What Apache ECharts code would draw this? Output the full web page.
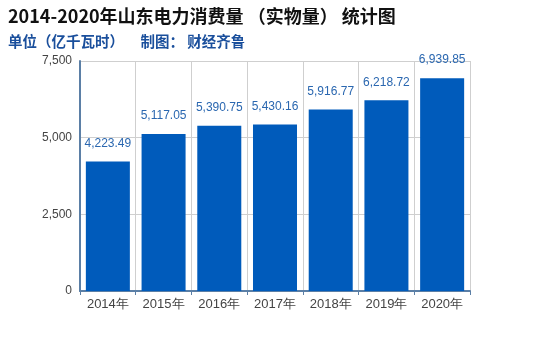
<!DOCTYPE html>
<html>
<head>
<meta charset="utf-8">
<script src="https://cdn.jsdelivr.net/npm/echarts@6/dist/echarts.min.js"></script>
<style>
html,body{margin:0;padding:0;background:#fff;}
#chart{width:550px;height:350px;}
</style>
</head>
<body>
<div id="chart"></div>
<script>
// 山东电力消费量（实物量），单位：亿千瓦时
const years = ['2014年','2015年','2016年','2017年','2018年','2019年','2020年'];
const consumption = [4223.49, 5117.05, 5390.75, 5430.16, 5916.77, 6218.72, 6939.85];
const yTicks = [0, 2500, 5000, 7500];

const chart = echarts.init(document.getElementById('chart'));
chart.setOption({
  animation: false,
  title: [
    {
      text: '2014-2020年山东电力消费量 （实物量） 统计图',
      left: 3, top: 2,
      textStyle: {fontFamily: 'Noto Sans CJK SC', fontSize: 18, fontWeight: 'bold', color: '#111'}
    },
    {
      text: '单位（亿千瓦时）     制图： 财经齐鲁',
      left: 3, top: 29,
      textStyle: {fontFamily: 'Noto Sans CJK SC', fontSize: 14.5, fontWeight: 'bold', color: '#1a4f9c'}
    }
  ],
  grid: {left: 80, right: 80, top: 61, bottom: 59},
  xAxis: {
    type: 'category',
    data: years,
    axisLine: {lineStyle: {color: '#5b7fa6', width: 2}},
    axisTick: {show: true, length: 4, lineStyle: {color: '#5b7fa6'}},
    axisLabel: {color: '#444', fontFamily: 'Arial', fontSize: 13, margin: 7},
    splitLine: {show: true, lineStyle: {color: '#cfcfcf'}}
  },
  yAxis: {
    type: 'value',
    min: yTicks[0], max: yTicks[yTicks.length - 1], interval: 2500,
    axisLine: {show: true, lineStyle: {color: '#5b7fa6', width: 2}},
    axisTick: {show: false},
    axisLabel: {color: '#444', fontFamily: 'Arial', fontSize: 12, margin: 8,
      formatter: v => v.toLocaleString('en-US')},
    splitLine: {show: true, lineStyle: {color: '#cfcfcf'}}
  },
  series: [{
    type: 'bar',
    data: consumption,
    barCategoryGap: '21%',
    itemStyle: {color: '#005bbb'},
    label: {
      show: true, position: 'top', distance: 12,
      color: '#2a67b0', fontFamily: 'Arial', fontSize: 12,
      formatter: p => p.value.toLocaleString('en-US', {minimumFractionDigits: 2, maximumFractionDigits: 2})
    }
  }]
});
</script>
</body>
</html>
